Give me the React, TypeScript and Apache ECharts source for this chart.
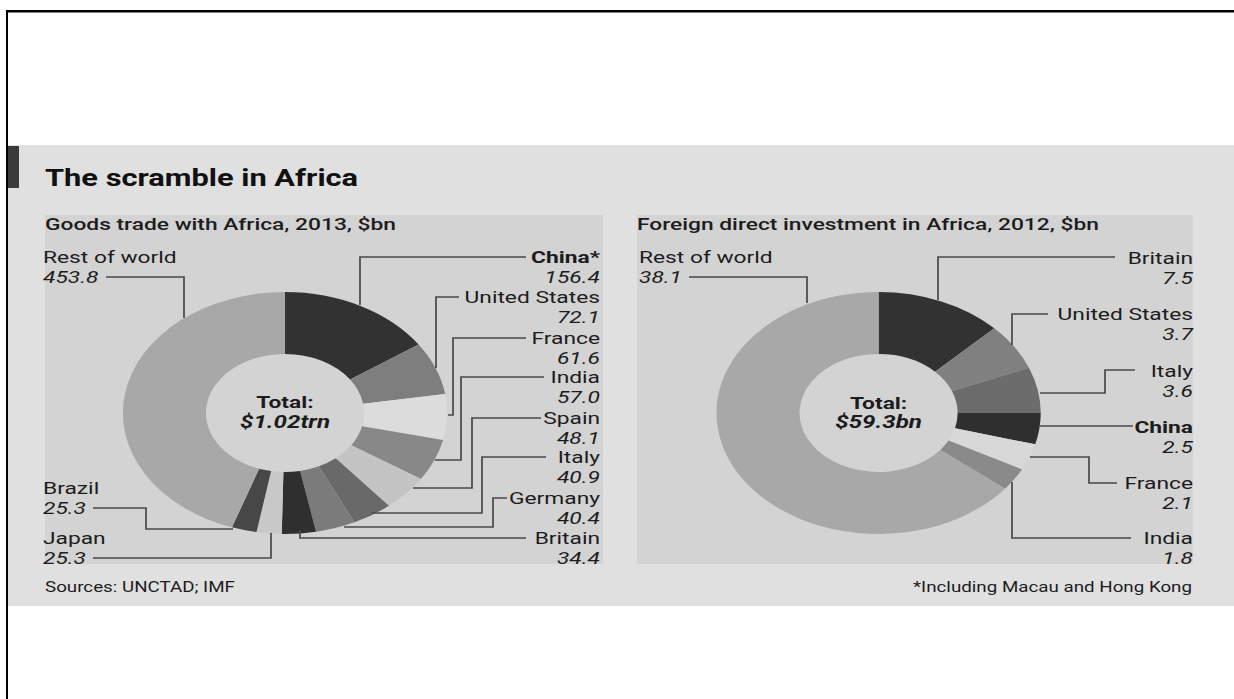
import React, { useEffect, useRef } from "react";
import * as echarts from "echarts";

// ---- data ----
const goodsNames = ["China*", "United States", "France", "India", "Spain", "Italy", "Germany", "Britain", "Japan", "Brazil", "Rest of world"];
const goodsValues = [156.4, 72.1, 61.6, 57.0, 48.1, 40.9, 40.4, 34.4, 25.3, 25.3, 453.8];
const goodsColors = ["#323232", "#7e7e7e", "#dcdcdc", "#888888", "#c4c4c4", "#696969", "#7b7b7b", "#2f2f2f", "#c8c8c8", "#474747", "#a8a8a8"];
const goodsBold = ["China*"];

const fdiNames = ["Britain", "United States", "Italy", "China", "France", "India", "Rest of world"];
const fdiValues = [7.5, 3.7, 3.6, 2.5, 2.1, 1.8, 38.1];
const fdiColors = ["#323232", "#808080", "#6c6c6c", "#2f2f2f", "#d8d8d8", "#8a8a8a", "#a8a8a8"];
const fdiBold = ["China"];

const titleText = "The scramble in Africa";
const goodsSubtitle = "Goods trade with Africa, 2013, $bn";
const fdiSubtitle = "Foreign direct investment in Africa, 2012, $bn";
const goodsTotal = "$1.02trn";
const fdiTotal = "$59.3bn";
const sourceText = "Sources: UNCTAD; IMF";
const noteText = "*Including Macau and Hong Kong";

// ---- layout (reference pixel coordinates; x is divided by the stretch S) ----
const S = 1.34;
const X = (x: number) => x / S;
const FONT = 'Roboto, "Noto Sans", sans-serif';
const TEXT = "#1c1c1c";
const LINE = "#4a4a4a";

type LabelLayout = { side: "left" | "right"; y: number; line: number[][] };

const goodsLayout: LabelLayout[] = [
  { side: "right", y: 257, line: [[526, 257], [360, 257], [360, 305]] },
  { side: "right", y: 297, line: [[459, 297], [436, 297], [436, 368]] },
  { side: "right", y: 338, line: [[526, 338], [453, 338], [453, 415], [448, 415]] },
  { side: "right", y: 377, line: [[544, 377], [461, 377], [461, 460], [435, 460]] },
  { side: "right", y: 418, line: [[541, 418], [472, 418], [472, 488], [413, 488]] },
  { side: "right", y: 457, line: [[546, 457], [482, 457], [482, 513], [372, 513]] },
  { side: "right", y: 498, line: [[507, 498], [493, 498], [493, 527], [344, 527]] },
  { side: "right", y: 538, line: [[526, 538], [300, 538], [300, 530]] },
  { side: "left", y: 538, line: [[93, 558], [271, 558], [271, 533]] },
  { side: "left", y: 488, line: [[93, 508], [146, 508], [146, 529], [233, 529]] },
  { side: "left", y: 257, line: [[106, 277], [184, 277], [184, 318]] },
];

const fdiLayout: LabelLayout[] = [
  { side: "right", y: 258, line: [[1115, 257], [938, 257], [938, 300]] },
  { side: "right", y: 314, line: [[1048, 314], [1012, 314], [1012, 345]] },
  { side: "right", y: 371, line: [[1135, 370], [1105, 370], [1105, 393], [1040, 393]] },
  { side: "right", y: 427, line: [[1133, 426], [1040, 426]] },
  { side: "right", y: 483, line: [[1030, 457], [1089, 457], [1089, 483], [1117, 483]] },
  { side: "right", y: 538, line: [[1012, 482], [1012, 538], [1131, 538]] },
  { side: "left", y: 257, line: [[689, 277], [807, 277], [807, 303]] },
];

function text(str: string, x: number, y: number, o: any = {}) {
  return {
    type: "text",
    x: X(x),
    y,
    z: 100,
    style: {
      text: str,
      fill: o.fill || TEXT,
      fontFamily: FONT,
      fontSize: o.size || 17,
      fontWeight: o.weight || "normal",
      fontStyle: o.style || "normal",
      align: o.align || "left",
      verticalAlign: "middle",
    },
  };
}

function line(pts: number[][]) {
  return {
    type: "polyline",
    z: 90,
    shape: { points: pts.map((p) => [X(p[0]), p[1]]) },
    style: { stroke: LINE, lineWidth: 1.3, fill: null },
  };
}

function rect(x0: number, y0: number, x1: number, y1: number, fill: string, z = -10) {
  return { type: "rect", z, shape: { x: X(x0), y: y0, width: X(x1) - X(x0), height: y1 - y0 }, style: { fill } };
}

function labels(names: string[], values: number[], layout: LabelLayout[], bold: string[], rightX: number, leftX: number) {
  const els: any[] = [];
  names.forEach((n, i) => {
    const l = layout[i];
    const isRight = l.side === "right";
    const x = isRight ? rightX : leftX;
    const align = isRight ? "right" : "left";
    els.push(text(n, x, l.y, { align, weight: bold.includes(n) ? "bold" : "normal" }));
    els.push(text(values[i].toFixed(1), x, l.y + 20, { align, style: "italic" }));
    els.push(line(l.line));
  });
  return els;
}

function pie(names: string[], values: number[], colors: string[], cx: number) {
  return {
    type: "pie",
    center: [X(cx), 413],
    radius: [59, 121],
    startAngle: 90,
    clockwise: true,
    avoidLabelOverlap: false,
    silent: true,
    label: { show: false },
    labelLine: { show: false },
    emphasis: { disabled: true },
    itemStyle: { borderWidth: 0 },
    data: names.map((n, i) => ({ name: n, value: values[i], itemStyle: { color: colors[i] } })),
  };
}

export default function App() {
  const ref = useRef<HTMLDivElement>(null);
  useEffect(() => {
    if (!ref.current) return;
    document.documentElement.style.overflow = "hidden";
    document.documentElement.style.background = "#ffffff";
    document.body.style.margin = "0";
    document.body.style.overflow = "hidden";
    document.body.style.background = "#ffffff";
    const chart = echarts.init(ref.current, undefined, { renderer: "svg" });
    const graphic: any[] = [
      // frame
      rect(6, 10, 1234, 12.5, "#000000", 50),
      rect(6, 10, 8, 699, "#000000", 50),
      // panels
      rect(8, 145, 1234, 606, "#e0e0e0", -20),
      rect(45, 215, 603, 564, "#d3d3d3", -15),
      rect(637, 215, 1193, 564, "#d3d3d3", -15),
      rect(8, 146, 19, 188, "#3b3b3b", -5),
      // headings
      text(titleText, 45, 178, { size: 23, weight: "bold", fill: "#111111" }),
      text(goodsSubtitle, 45, 224, { size: 17, weight: 500 }),
      text(fdiSubtitle, 637, 224, { size: 17, weight: 500 }),
      // totals
      text("Total:", 285, 402, { size: 17, weight: "bold", align: "center" }),
      text(goodsTotal, 285, 422, { size: 18, weight: "bold", style: "italic", align: "center" }),
      text("Total:", 878.6, 403, { size: 17, weight: "bold", align: "center" }),
      text(fdiTotal, 878.6, 422, { size: 18, weight: "bold", style: "italic", align: "center" }),
      // footers
      text(sourceText, 45, 587, { size: 14 }),
      text(noteText, 1192, 587, { size: 14, align: "right" }),
      ...labels(goodsNames, goodsValues, goodsLayout, goodsBold, 600, 43),
      ...labels(fdiNames, fdiValues, fdiLayout, fdiBold, 1193, 639),
    ];
    chart.setOption({
      animation: false,
      backgroundColor: "#ffffff",
      graphic,
      series: [pie(goodsNames, goodsValues, goodsColors, 285), pie(fdiNames, fdiValues, fdiColors, 878.6)],
    });
    return () => chart.dispose();
  }, []);
  return (
    <div
      ref={ref}
      style={{
        position: "fixed",
        left: 0,
        top: 0,
        width: 1234 / S,
        height: 699,
        transform: `scaleX(${S})`,
        transformOrigin: "0 0",
      }}
    />
  );
}
